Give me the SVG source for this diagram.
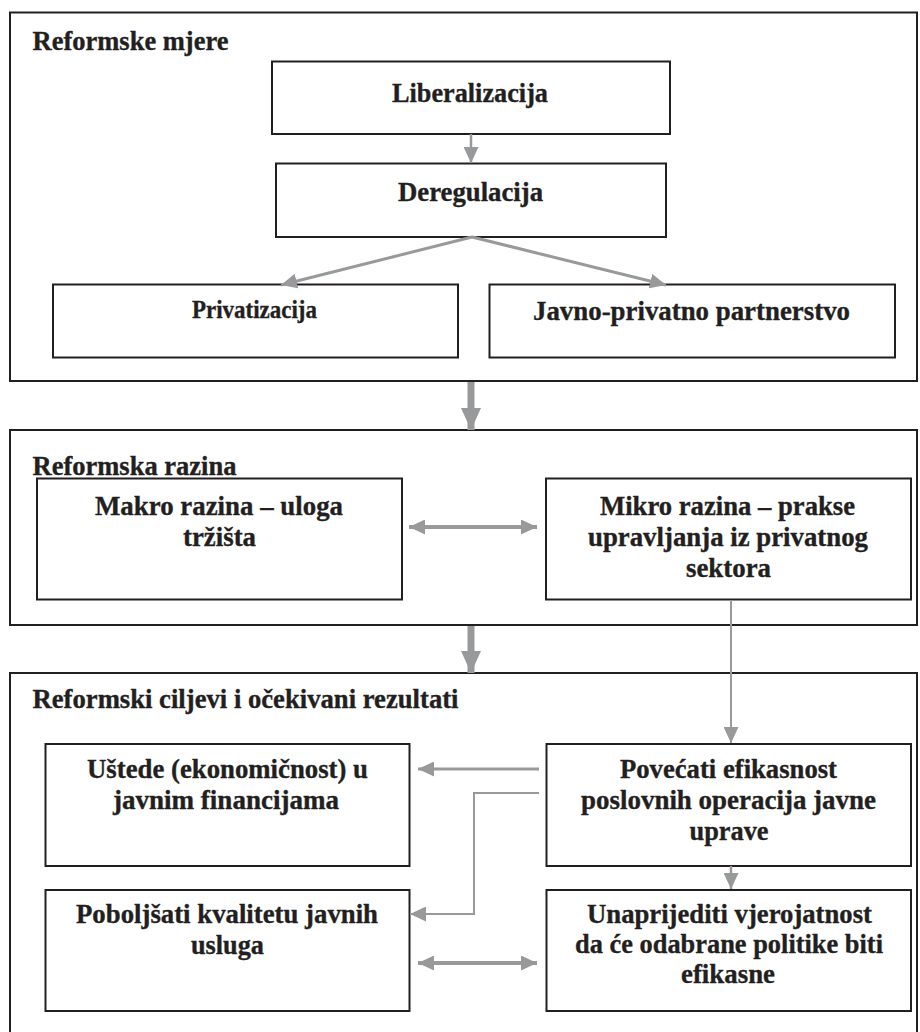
<svg xmlns="http://www.w3.org/2000/svg" width="920" height="1032" viewBox="0 0 920 1032">
<style>
.frame{fill:#fff;stroke:#231f20;stroke-width:2}
.box{fill:#fff;stroke:#231f20;stroke-width:2}
.t{font-family:"Liberation Serif","Times New Roman",serif;font-weight:bold;font-size:28px;fill:#231f20;stroke:#231f20;stroke-width:0.35}
.h{text-anchor:start}
.c{text-anchor:middle}
.cn{fill:none;stroke:#98999b}
</style>
<defs>
<marker id="ah" markerUnits="userSpaceOnUse" markerWidth="16" markerHeight="15" refX="16" refY="7.5" orient="auto-start-reverse">
<path d="M0,0 L16,7.5 L0,15 z" fill="#98999b"/>
</marker>
<marker id="big" markerUnits="userSpaceOnUse" markerWidth="22" markerHeight="20" refX="22" refY="10" orient="auto">
<path d="M0,0 L22,10 L0,20 z" fill="#98999b"/>
</marker>
</defs>
<rect x="0" y="0" width="920" height="1032" fill="#fff"/>

<g id="section1">
<rect class="frame" x="10" y="12.5" width="907" height="368.5"/>
<text class="t h" x="32.5" y="50" textLength="196" lengthAdjust="spacingAndGlyphs">Reformske mjere</text>
</g>
<g id="section2">
<rect class="frame" x="10" y="430" width="907" height="195"/>
<text class="t h" x="32.5" y="475" textLength="204" lengthAdjust="spacingAndGlyphs">Reformska razina</text>
</g>
<g id="section3">
<rect class="frame" x="10" y="673" width="907" height="380"/>
<text class="t h" x="32.5" y="708" textLength="426" lengthAdjust="spacingAndGlyphs">Reformski ciljevi i očekivani rezultati</text>
</g>

<g id="liberalizacija">
<rect class="box" x="272" y="61.5" width="398" height="72.5"/>
<text class="t c" x="470" y="101.5" textLength="156" lengthAdjust="spacingAndGlyphs">Liberalizacija</text>
</g>
<g id="deregulacija">
<rect class="box" x="276" y="163.5" width="390" height="73.5"/>
<text class="t c" x="470.5" y="200.5" textLength="145" lengthAdjust="spacingAndGlyphs">Deregulacija</text>
</g>
<g id="privatizacija">
<rect class="box" x="53" y="284.5" width="405" height="73"/>
<text class="t c" x="254.5" y="317.5" style="font-size:25px" textLength="125" lengthAdjust="spacingAndGlyphs">Privatizacija</text>
</g>
<g id="jpp">
<rect class="box" x="489.5" y="284.5" width="405.5" height="73"/>
<text class="t c" x="691.5" y="320" textLength="317" lengthAdjust="spacingAndGlyphs">Javno-privatno partnerstvo</text>
</g>

<g id="makro">
<rect class="box" x="37" y="478.5" width="365" height="121"/>
<text class="t c" x="219" y="515" textLength="248" lengthAdjust="spacingAndGlyphs">Makro razina – uloga</text>
<text class="t c" x="219.5" y="546" textLength="73" lengthAdjust="spacingAndGlyphs">tržišta</text>
</g>
<g id="mikro">
<rect class="box" x="546" y="478.5" width="365" height="121"/>
<text class="t c" x="727.5" y="515" textLength="255" lengthAdjust="spacingAndGlyphs">Mikro razina – prakse</text>
<text class="t c" x="728" y="546" textLength="280" lengthAdjust="spacingAndGlyphs">upravljanja iz privatnog</text>
<text class="t c" x="728.5" y="577" textLength="85" lengthAdjust="spacingAndGlyphs">sektora</text>
</g>

<g id="ustede">
<rect class="box" x="45.5" y="744" width="364" height="122"/>
<text class="t c" x="227.5" y="778" textLength="281" lengthAdjust="spacingAndGlyphs">Uštede (ekonomičnost) u</text>
<text class="t c" x="226" y="809" textLength="226" lengthAdjust="spacingAndGlyphs">javnim financijama</text>
</g>
<g id="povecati">
<rect class="box" x="546.5" y="744" width="364.5" height="122"/>
<text class="t c" x="728.5" y="778" textLength="217" lengthAdjust="spacingAndGlyphs">Povećati efikasnost</text>
<text class="t c" x="728.5" y="809" textLength="295" lengthAdjust="spacingAndGlyphs">poslovnih operacija javne</text>
<text class="t c" x="729" y="840" textLength="79" lengthAdjust="spacingAndGlyphs">uprave</text>
</g>
<g id="poboljsati">
<rect class="box" x="45.5" y="890" width="364" height="121"/>
<text class="t c" x="227" y="923" textLength="302" lengthAdjust="spacingAndGlyphs">Poboljšati kvalitetu javnih</text>
<text class="t c" x="227.5" y="954" textLength="73" lengthAdjust="spacingAndGlyphs">usluga</text>
</g>
<g id="unaprijediti">
<rect class="box" x="546.5" y="890" width="364.5" height="121"/>
<text class="t c" x="729.5" y="923" textLength="285" lengthAdjust="spacingAndGlyphs">Unaprijediti vjerojatnost</text>
<text class="t c" x="729" y="953" textLength="308" lengthAdjust="spacingAndGlyphs">da će odabrane politike biti</text>
<text class="t c" x="728" y="983" textLength="94" lengthAdjust="spacingAndGlyphs">efikasne</text>
</g>

<g id="connectors">
<line class="cn" x1="471" y1="134" x2="471" y2="163" stroke-width="2.5" marker-end="url(#ah)"/>
<line class="cn" x1="472" y1="237" x2="281" y2="285" stroke-width="3" marker-end="url(#ah)"/>
<line class="cn" x1="472" y1="237" x2="666" y2="285" stroke-width="3" marker-end="url(#ah)"/>
<line class="cn" x1="471" y1="382" x2="471" y2="430" stroke-width="7" marker-end="url(#big)"/>
<line class="cn" x1="409" y1="527" x2="537" y2="527" stroke-width="4" marker-start="url(#ah)" marker-end="url(#ah)"/>
<line class="cn" x1="471" y1="626" x2="471" y2="673" stroke-width="7" marker-end="url(#big)"/>
<line class="cn" x1="731" y1="600" x2="731" y2="743" stroke-width="2" marker-end="url(#ah)"/>
<line class="cn" x1="539" y1="769" x2="418" y2="769" stroke-width="3" marker-end="url(#ah)"/>
<polyline class="cn" points="539,793 474,793 474,914 410,914" stroke-width="2" marker-end="url(#ah)"/>
<line class="cn" x1="731" y1="866" x2="731" y2="889" stroke-width="2.5" marker-end="url(#ah)"/>
<line class="cn" x1="418" y1="963" x2="537" y2="963" stroke-width="4" marker-start="url(#ah)" marker-end="url(#ah)"/>
</g>
</svg>
